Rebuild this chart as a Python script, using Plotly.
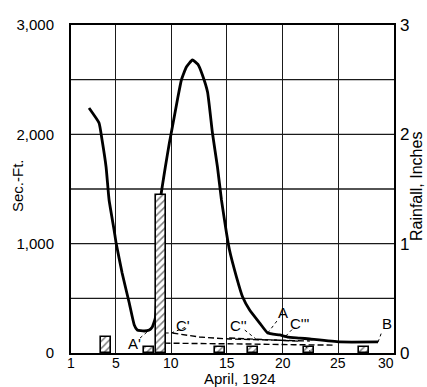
import plotly.graph_objects as go

# Hydrograph (discharge, sec.-ft.), April 1924
flow_days = [2.62, 3.52, 3.79, 4.15, 4.42, 4.87, 5.05, 5.59, 6.23, 6.68, 6.95, 7.58, 8.03, 8.3, 8.57,
             8.75, 8.84, 9.02, 9.47, 9.83, 10.0, 10.55, 10.91, 11.36, 11.9, 12.4, 12.8, 13.26, 13.7,
             14.15, 14.51, 14.96, 15.23, 15.86, 16.41, 17.04, 17.94, 18.66, 19.74, 20.46, 21.54,
             22.44, 25.14, 28.57]
flow_cfs = [2241, 2104, 1948, 1701, 1399, 1125, 1006, 732, 457, 256, 210, 201, 210, 238, 320,
            668, 1034, 1399, 1701, 1921, 2012, 2314, 2497, 2616, 2680, 2640, 2543, 2387, 2012,
            1701, 1399, 1098, 942, 695, 512, 393, 274, 183, 165, 146, 137,
            128, 101, 101]

# Rainfall (inches)
rain_days = [4.1, 8.03, 9.06, 14.4, 17.3, 22.4, 27.3]
rain_in = [0.147, 0.055, 1.445, 0.055, 0.055, 0.055, 0.055]

# Separation lines (dashed)
sep1_days = [10.1, 12.53, 15.23, 17.94, 20.64, 22.44]
sep1_cfs = [183, 146, 128, 119, 110, 110]
sep2_days = [9.4, 13.0, 17.0, 21.0, 24.5]
sep2_cfs = [90, 88, 82, 76, 72]
sep3_days = [15.2, 17.5, 19.5, 21.5]
sep3_cfs = [137, 125, 116, 108]

x_ticks = [1, 5, 10, 15, 20, 25, 30]
x_labels = ["1", "5", "10", "15", "20", "25", "30"]
y_ticks = [0, 1000, 2000, 3000]
y_labels = ["0", "1,000", "2,000", "3,000"]
y2_ticks = [0, 1, 2, 3]

# point labels: text, label position (day, cfs), leader from (day, cfs) to (day, cfs)
point_labels = ["A'", "C'", "C''", "A", "C'''", "B", "B'"]
label_days = [6.68, 11.05, 16.05, 20.0, 21.6, 29.4, 22.9]
label_cfs = [91, 247, 256, 366, 274, 274, -18]
leader_from_days = [7.2, 10.0, 16.6, 18.66, 20.28, 28.57, 21.99]
leader_from_cfs = [137, 183, 210, 183, 155, 100, 64]
leader_to_days = [8.03, 11.36, 17.6, 19.56, 20.9, 28.93, 22.44]
leader_to_cfs = [210, 238, 128, 302, 220, 201, 18]

FONT = "Liberation Sans"
L, R, T, B = 71, 394, 25, 353


def px(xp, yp):
    return (xp - L) / (R - L), (B - yp) / (B - T)


fig = go.Figure()
fig.add_trace(go.Bar(x=rain_days, y=rain_in, width=0.9, yaxis="y2",
                     marker=dict(color="white", line=dict(color="black", width=1.6),
                                 pattern=dict(shape="/", fgcolor="black", bgcolor="white",
                                              size=5, solidity=0.3)),
                     showlegend=False))
for dx, dy in [(sep1_days, sep1_cfs), (sep2_days, sep2_cfs), (sep3_days, sep3_cfs)]:
    fig.add_trace(go.Scatter(x=dx, y=dy, mode="lines",
                             line=dict(color="black", width=1.4, dash="6px,3px"),
                             showlegend=False))
fig.add_trace(go.Scatter(x=flow_days, y=flow_cfs, mode="lines",
                         line=dict(color="black", width=2.8, shape="spline", smoothing=0.4),
                         showlegend=False))

for i, txt in enumerate(point_labels):
    fig.add_shape(type="line", x0=leader_from_days[i], y0=leader_from_cfs[i],
                  x1=leader_to_days[i], y1=leader_to_cfs[i], xref="x", yref="y",
                  line=dict(color="black", width=1, dash="dot"))
    fig.add_annotation(x=label_days[i], y=label_cfs[i], text=txt, showarrow=False,
                       xref="x", yref="y", xanchor="center", yanchor="middle",
                       font=dict(family=FONT, size=15, color="black"))
# short dotted connector toward C'
fig.add_shape(type="line", x0=9.5, y0=183, x1=10.0, y1=183, xref="x", yref="y",
              line=dict(color="black", width=1, dash="dot"))

# x tick labels (placed as text just under the axis); last one kept left of the right-axis "0"
_, tick_y = px(0, 363)
for k, (tv, tl) in enumerate(zip(x_ticks, x_labels)):
    last = k == len(x_ticks) - 1
    fig.add_annotation(x=tv, y=tick_y, xref="x", yref="paper", text=tl, showarrow=False,
                       xanchor="right" if last else "center", xshift=2 if last else 0,
                       yanchor="middle", font=dict(family=FONT, size=14, color="black"))

# axis titles
for txt, xp, yp, ang, size in [("Sec.-Ft.", 17, 186, -90, 15),
                               ("Rainfall, Inches", 416, 186, -90, 16),
                               ("April, 1924", 240, 378, 0, 15)]:
    ax, ay = px(xp, yp)
    fig.add_annotation(x=ax, y=ay, xref="paper", yref="paper", text=txt, textangle=ang,
                       xanchor="center", yanchor="middle", showarrow=False,
                       font=dict(family=FONT, size=size, color="black"))

fig.update_layout(
    width=427, height=387,
    margin=dict(l=L, r=427 - R, t=T, b=387 - B, autoexpand=False),
    paper_bgcolor="white", plot_bgcolor="white",
    font=dict(family=FONT, size=15, color="black"),
    xaxis=dict(range=[1, 30], tickvals=x_ticks, ticks="", showgrid=True, showticklabels=False,
               gridcolor="#1a1a1a", gridwidth=1.4, showline=True, linecolor="black",
               linewidth=2, mirror=True, zeroline=False, automargin=False),
    yaxis=dict(range=[0, 3000], tickvals=y_ticks, ticktext=y_labels,
               showgrid=False, showline=True, linecolor="black", linewidth=2, mirror=True,
               zeroline=False, ticks="", automargin=False, ticklabelstandoff=12,
               tickfont=dict(size=15)),
    yaxis2=dict(range=[0, 3], tickvals=y2_ticks, overlaying="y", side="right",
                showgrid=False, zeroline=False, showline=False, ticks="", automargin=False,
                ticklabelstandoff=5, tickfont=dict(size=17)),
    bargap=0,
)
# horizontal grid at 500 intervals
for v in range(500, 3000, 500):
    fig.add_shape(type="line", xref="paper", x0=0, x1=1, yref="y", y0=v, y1=v,
                  line=dict(color="#1a1a1a", width=1.4), layer="below")

fig.write_html("out.html", config={"displayModeBar": False})

# remove the default page margin so the figure sits at the window's top-left corner
with open("out.html", encoding="utf-8") as f:
    html = f.read()
html = html.replace("<head>", "<head><style>html,body{margin:0;padding:0;overflow:hidden;}</style>", 1)
with open("out.html", "w", encoding="utf-8") as f:
    f.write(html)
